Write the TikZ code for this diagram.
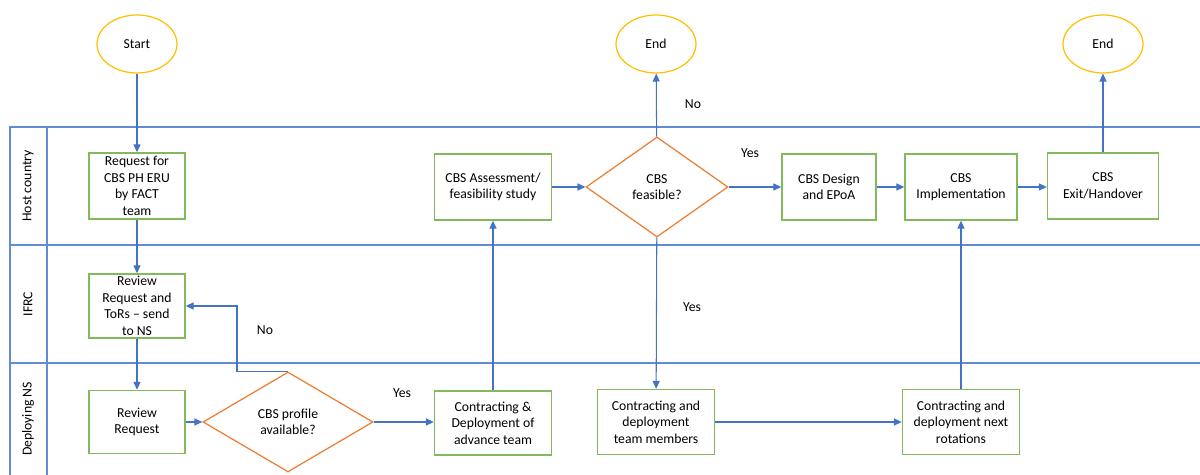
\documentclass[tikz,border=0pt]{standalone}
\usepackage{fontspec}
\setmainfont{Carlito}
\usetikzlibrary{shapes.geometric,arrows.meta}
\definecolor{flowblue}{RGB}{68,114,196}
\definecolor{laneblue}{RGB}{96,140,210}
\definecolor{boxgreen}{RGB}{130,185,90}
\definecolor{decorange}{RGB}{237,125,49}
\definecolor{termgold}{RGB}{255,192,0}

\begin{document}
\begin{tikzpicture}[x=0.02cm, y=-0.02cm, font=\fontsize{7.8}{9.4}\selectfont,
  process/.style={draw=boxgreen, line width=0.8pt, align=center, inner sep=1pt, minimum height=1.3cm},
  decision/.style={draw=decorange, diamond, line width=0.7pt, align=center, inner sep=0pt, minimum height=2cm},
  terminal/.style={draw=termgold, ellipse, line width=0.7pt, minimum width=1.6cm, minimum height=1.16cm},
  flow/.style={draw=flowblue, line width=0.6pt, -{Triangle[length=4.5pt,width=4pt]}},
  lane/.style={draw=laneblue, line width=0.6pt},
  lanelabel/.style={rotate=90}]
  \useasboundingbox (0,0) rectangle (1200,475);
  % swimlanes
  \draw[lane] (1200,127) -- (10,127) -- (10,475);
  \draw[lane] (10,245) -- (1200,245);
  \draw[lane, line width=1.2pt] (10,363) -- (1200,363);
  \draw[lane, line width=1.2pt] (47,127) -- (47,475);
  \node[lanelabel] (hostlabel) at (28,186) {Host country};
  \node[lanelabel] (ifrclabel) at (28,304) {IFRC};
  \node[lanelabel] (nslabel) at (28,419) {Deploying NS};
  % terminals
  \node[terminal] (start) at (137,44) {Start};
  \node[terminal] (endno) at (656,44) {End};
  \node[terminal] (endexit) at (1103,44) {End};
  % host country
  \node[process, minimum width=1.92cm, minimum height=1.32cm] (request) at (137,186) {Request for\\CBS PH ERU\\by FACT\\team};
  \node[process, minimum width=2.34cm, minimum height=1.32cm] (assess) at (493,187) {CBS Assessment/\\feasibility study};
  \node[decision, minimum width=2.84cm] (feasible) at (657,187) {CBS\\feasible?};
  \node[process, minimum width=1.88cm, minimum height=1.32cm] (design) at (829,187) {CBS Design\\and EPoA};
  \node[process, minimum width=2.24cm, minimum height=1.32cm] (implement) at (961,187) {CBS\\Implementation};
  \node[process, minimum width=2.22cm, minimum height=1.32cm] (exit) at (1103,186) {CBS\\Exit/Handover};
  % IFRC
  \node[process, minimum width=1.92cm, minimum height=1.28cm] (reviewtors) at (137,306) {Review\\Request and\\ToRs -- send\\to NS};
  % deploying NS
  \node[process, minimum width=1.92cm, minimum height=1.26cm] (reviewreq) at (137,422) {Review\\Request};
  \node[decision, minimum width=3.4cm] (profile) at (288,422) {CBS profile\\available?};
  \node[process, minimum width=2.34cm, minimum height=1.28cm] (advance) at (493,423) {Contracting \&\\Deployment of\\advance team};
  \node[process, minimum width=2.34cm, minimum height=1.3cm] (members) at (656,422) {Contracting and\\deployment\\team members};
  \node[process, minimum width=2.34cm, minimum height=1.3cm] (rotations) at (961,422) {Contracting and\\deployment next\\rotations};
  % labels
  \node (noprofile) at (265,330) {No};
  \node (yesprofile) at (402,393) {Yes};
  \node (nofeasible) at (693,104) {No};
  \node (yesdesign) at (750,153) {Yes};
  \node (yesmembers) at (692,307) {Yes};
  \coordinate (nobend) at (237,306);
  % connectors
  \draw[flow] (start) -- (request);
  \draw[flow] (request) -- (reviewtors);
  \draw[flow] (reviewtors) -- (reviewreq);
  \draw[flow] (reviewreq) -- (profile);
  \draw[flow] (profile) -- (advance.west |- profile);
  \draw[flow] (profile.north) -| (nobend) -- (reviewtors.east);
  \draw[flow] (advance) -- (assess);
  \draw[flow] (assess) -- (feasible);
  \draw[flow] (feasible) -- (endno);
  \draw[flow] (feasible) -- (design);
  \draw[flow] (feasible) -- (members);
  \draw[flow] (design) -- (implement);
  \draw[flow] (implement) -- (exit.west |- implement);
  \draw[flow] (exit) -- (endexit);
  \draw[flow] (members) -- (rotations);
  \draw[flow] (rotations) -- (implement);
\end{tikzpicture}
\end{document}
